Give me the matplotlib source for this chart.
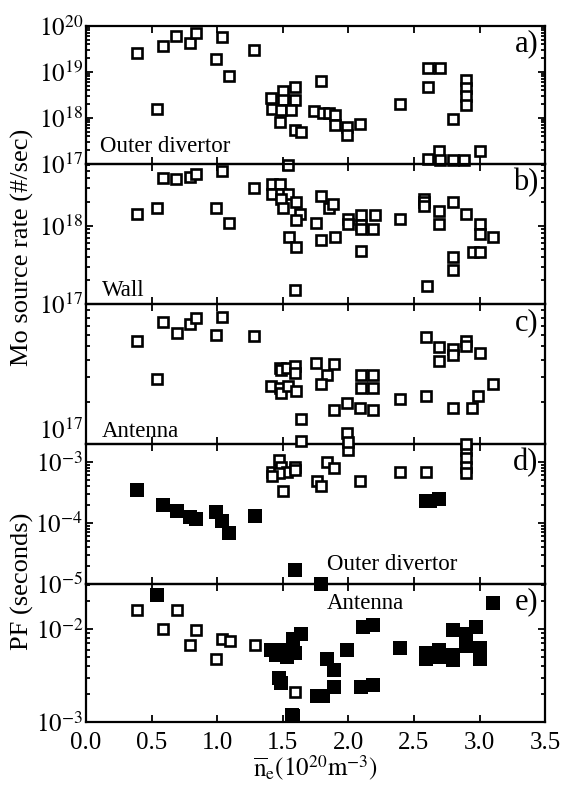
import matplotlib
matplotlib.use("Agg")
import matplotlib.pyplot as plt
import numpy as np
from matplotlib.ticker import LogLocator, NullFormatter

plt.rcParams["font.family"] = ["Liberation Serif", "DejaVu Serif"]
plt.rcParams["mathtext.fontset"] = "stix"

# panel a) outer divertor source rate (#/sec)
a_x = [0.39, 0.59, 0.685, 0.79, 0.84, 1.04, 0.99, 1.09, 1.28, 0.54, 1.79,
       1.41, 1.50, 1.59, 1.59, 1.50, 1.42, 1.49, 1.56, 1.48, 1.59, 1.64,
       1.74, 1.81, 1.85, 1.90, 1.90, 1.99, 1.99, 2.09, 2.39, 2.61, 2.70,
       2.61, 2.90, 2.90, 2.90, 2.90, 2.80, 2.69, 2.61, 2.70, 2.80, 3.00,
       2.88, 1.54]
a_y = [2.6e19, 3.7e19, 6.0e19, 4.2e19, 6.9e19, 5.9e19, 1.9e19, 8.1e18, 3.0e19,
       1.6e18, 6.3e18, 2.7e18, 3.9e18, 4.8e18, 2.4e18, 2.5e18, 1.6e18, 1.5e18,
       1.5e18, 8.3e17, 5.5e17, 5.0e17, 1.4e18, 1.26e18, 1.3e18, 1.15e18,
       6.9e17, 6.5e17, 4.2e17, 7.4e17, 2.0e18, 1.2e19, 1.2e19, 4.8e18, 6.8e18,
       4.5e18, 3.0e18, 1.9e18, 9.5e17, 1.9e17, 1.3e17, 1.2e17, 1.2e17, 1.9e17,
       1.2e17, 9.5e16]

# panel b) wall
b_x = [0.39, 0.54, 0.59, 0.685, 0.79, 0.84, 1.04, 0.99, 1.09, 1.28, 1.42,
       1.48, 1.42, 1.49, 1.54, 1.49, 1.50, 1.60, 1.63, 1.60, 1.55, 1.60,
       1.59, 1.79, 1.85, 1.88, 1.75, 1.79, 1.90, 2.00, 2.00, 2.10, 2.10,
       2.10, 2.20, 2.19, 2.10, 2.39, 2.58, 2.58, 2.58, 2.69, 2.69, 2.80,
       2.90, 3.00, 3.00, 3.10, 2.95, 3.00, 2.80, 2.80, 2.60]
b_y = [1.4e18, 1.66e18, 4.1e18, 3.9e18, 4.2e18, 4.5e18, 5.0e18, 1.66e18,
       1.07e18, 3.0e18, 3.4e18, 3.4e18, 2.5e18, 2.5e18, 2.5e18, 2.2e18, 1.7e18,
       2.0e18, 1.4e18, 1.17e18, 7.2e17, 5.4e17, 1.5e17, 2.4e18, 1.66e18,
       1.9e18, 1.07e18, 6.6e17, 7.2e17, 1.23e18, 1.05e18, 1.35e18, 1.02e18,
       9.1e17, 1.35e18, 9.1e17, 4.8e17, 1.2e18, 2.2e18, 2.0e18, 1.8e18,
       1.55e18, 1.05e18, 2.0e18, 1.4e18, 1.05e18, 7.9e17, 7.2e17, 4.6e17,
       4.6e17, 4.0e17, 2.7e17, 1.7e17]

# panel c) antenna
c_x = [0.39, 0.54, 0.59, 0.69, 0.79, 0.84, 1.04, 0.99, 1.28, 1.48, 1.49,
       1.53, 1.59, 1.59, 1.41, 1.48, 1.49, 1.54, 1.60, 1.64, 1.75, 1.89,
       1.84, 1.79, 2.10, 2.19, 2.10, 2.19, 1.99, 1.89, 2.09, 2.19, 1.99,
       2.39, 2.59, 2.59, 2.69, 2.69, 2.80, 2.80, 2.90, 2.90, 3.00, 2.80,
       2.94, 2.99, 3.10]
c_y = [5.4e17, 2.9e17, 7.4e17, 6.2e17, 7.2e17, 7.9e17, 8.1e17, 6.0e17, 5.9e17,
       3.5e17, 3.4e17, 3.5e17, 3.6e17, 3.2e17, 2.6e17, 2.5e17, 2.3e17, 2.6e17,
       2.4e17, 1.5e17, 3.8e17, 3.7e17, 3.1e17, 2.7e17, 3.1e17, 3.1e17, 2.5e17,
       2.5e17, 1.95e17, 1.74e17, 1.8e17, 1.74e17, 1.2e17, 2.1e17, 2.2e17,
       5.8e17, 4.9e17, 3.9e17, 4.8e17, 4.3e17, 5.4e17, 5.0e17, 4.5e17,
       1.8e17, 1.8e17, 2.2e17, 2.7e17]

# panel d) PF outer divertor (seconds)
d_open_x = [1.42, 1.47, 1.49, 1.53, 1.59, 1.59, 1.47, 1.50, 1.42, 1.76, 1.79,
            1.84, 1.89, 2.00, 2.00, 2.09, 2.39, 2.59, 2.90, 2.90, 2.90, 2.90,
            2.90, 1.64]
d_open_y = [6.9e-4, 1.07e-3, 8.3e-4, 6.9e-4, 8.3e-4, 7.4e-4, 6.5e-4, 3.3e-4,
            5.8e-4, 4.8e-4, 4.0e-4, 1.0e-3, 7.9e-4, 1.6e-3, 2.1e-3, 4.9e-4,
            6.8e-4, 6.8e-4, 1.6e-3, 1.15e-3, 8.3e-4, 6.5e-4, 2.0e-3, 2.2e-3]
d_fill_x = [0.39, 0.59, 0.69, 0.79, 0.84, 0.99, 1.04, 1.09, 1.29, 1.59, 1.79,
            2.59, 2.62, 2.69]
d_fill_y = [3.5e-4, 2.0e-4, 1.6e-4, 1.23e-4, 1.15e-4, 1.5e-4, 1.07e-4, 6.9e-5,
            1.3e-4, 1.7e-5, 1.0e-5, 2.3e-4, 2.3e-4, 2.5e-4]

# panel e) PF antenna (seconds)
e_open_x = [0.39, 0.59, 0.69, 0.79, 0.84, 0.99, 1.04, 1.10, 1.29, 1.59]
e_open_y = [1.6e-2, 1.0e-2, 1.6e-2, 6.8e-3, 9.8e-3, 4.8e-3, 7.8e-3, 7.4e-3,
            6.8e-3, 2.1e-3]
e_fill_x = [0.54, 3.10, 1.41, 1.45, 1.50, 1.53, 1.59, 1.58, 1.64, 1.47, 1.49,
            1.57, 1.58, 1.76, 1.81, 1.84, 1.89, 1.89, 1.99, 2.11, 2.19, 2.10,
            2.19, 2.39, 2.59, 2.59, 2.69, 2.69, 2.80, 2.80, 2.80, 2.90, 2.97,
            3.00, 3.00, 2.90]
e_fill_y = [2.3e-2, 1.9e-2, 5.9e-3, 5.2e-3, 5.9e-3, 5.0e-3, 5.5e-3, 7.9e-3,
            8.9e-3, 3.0e-3, 2.6e-3, 1.2e-3, 1.15e-3, 1.9e-3, 1.9e-3, 4.8e-3,
            3.6e-3, 2.4e-3, 6.0e-3, 1.05e-2, 1.1e-2, 2.4e-3, 2.5e-3, 6.2e-3,
            5.5e-3, 4.7e-3, 5.9e-3, 5.0e-3, 9.8e-3, 5.2e-3, 4.6e-3, 8.9e-3,
            1.05e-2, 6.2e-3, 4.7e-3, 6.5e-3]

x_ticks = [0.0, 0.5, 1.0, 1.5, 2.0, 2.5, 3.0, 3.5]


def sci_label(v):
    e = int(round(np.log10(v)))
    return r"$10^{%d}$" % e


def open_sq(ax, x, y):
    ax.plot(x, y, ls="none", marker="s", ms=7.8, mew=1.9, mfc="white",
            mec="black", clip_on=False, zorder=3)


def fill_sq(ax, x, y):
    ax.plot(x, y, ls="none", marker="s", ms=10.5, mew=0, mfc="black",
            clip_on=False, zorder=4)


def setup(ax, ylim, labelled, show_x):
    ax.set_yscale("log")
    ax.set_xlim(0, 3.5)
    ax.set_ylim(*ylim)
    ax.set_xticks(x_ticks)
    ax.yaxis.set_minor_locator(LogLocator(base=10, subs=np.arange(2, 10), numticks=20))
    ax.yaxis.set_minor_formatter(NullFormatter())
    ax.set_yticks(labelled)
    ax.set_yticklabels([sci_label(v) for v in labelled])
    ax.tick_params(which="both", direction="in", top=True, right=True,
                   labelsize=18, width=1.3)
    ax.tick_params(which="major", length=5)
    ax.tick_params(which="minor", length=3)
    ax.tick_params(axis="y", pad=2)
    ax.tick_params(axis="x", pad=7)
    for s in ax.spines.values():
        s.set_linewidth(1.6)
    if not show_x:
        ax.tick_params(axis="x", labelbottom=False)


fig = plt.figure(figsize=(5.64, 7.85), dpi=100)
left, width = 0.1525, 0.814
bottoms = [0.7911, 0.6127, 0.4344, 0.2561, 0.0803]
heights = [0.1758, 0.1784, 0.1783, 0.1783, 0.1758]
axes = [fig.add_axes([left, b, width, h]) for b, h in zip(bottoms, heights)]
ax_a, ax_b, ax_c, ax_d, ax_e = axes

setup(ax_a, (1e17, 1e20), [1e17, 1e18, 1e19, 1e20], False)
setup(ax_b, (1e17, 6.1e18), [1e17, 1e18], False)
setup(ax_c, (1e17, 1e18), [1e17], False)
setup(ax_d, (1e-5, 1.97e-3), [1e-5, 1e-4, 1e-3], False)
setup(ax_e, (1e-3, 3.05e-2), [1e-3, 1e-2], True)

# the 10^17 of panel c sits just above its axis line, clear of d's 10^-3
for t in ax_c.get_yticklabels():
    t.set_va("bottom")

open_sq(ax_a, a_x, a_y)
open_sq(ax_b, b_x, b_y)
open_sq(ax_c, c_x, c_y)
open_sq(ax_d, d_open_x, d_open_y)
fill_sq(ax_d, d_fill_x, d_fill_y)
open_sq(ax_e, e_open_x, e_open_y)
fill_sq(ax_e, e_fill_x, e_fill_y)

# later panels drawn above earlier ones' overflowing markers
for i, ax in enumerate(axes):
    ax.set_zorder(i)
    ax.patch.set_alpha(0)

for ax, lab in zip(axes, ["a)", "b)", "c)", "d)", "e)"]):
    ax.text(0.985, 0.87, lab, transform=ax.transAxes, ha="right", va="center",
            fontsize=22)

ax_a.text(0.03, 0.13, "Outer divertor", transform=ax_a.transAxes, fontsize=16.5,
          va="center")
ax_b.text(0.035, 0.10, "Wall", transform=ax_b.transAxes, fontsize=16.5,
          va="center")
ax_c.text(0.035, 0.09, "Antenna", transform=ax_c.transAxes, fontsize=16.5,
          va="center")
ax_d.text(0.525, 0.14, "Outer divertor", transform=ax_d.transAxes,
          fontsize=16.5, va="center")
ax_e.text(0.525, 0.86, "Antenna", transform=ax_e.transAxes, fontsize=16.5,
          va="center")

ax_e.set_xticklabels(["%.1f" % v for v in x_ticks])
ax_e.set_xlabel(r"$\overline{\mathrm{n}}_{\mathrm{e}}(10^{20}\mathrm{m}^{-3})$",
                fontsize=18, labelpad=0)

fig.text(0.039, 0.685, "Mo source rate (#/sec)", rotation=90, ha="center",
         va="center", fontsize=19)
fig.text(0.039, 0.26, "PF (seconds)", rotation=90, ha="center", va="center",
         fontsize=19)

fig.savefig("out.png", dpi=100)
